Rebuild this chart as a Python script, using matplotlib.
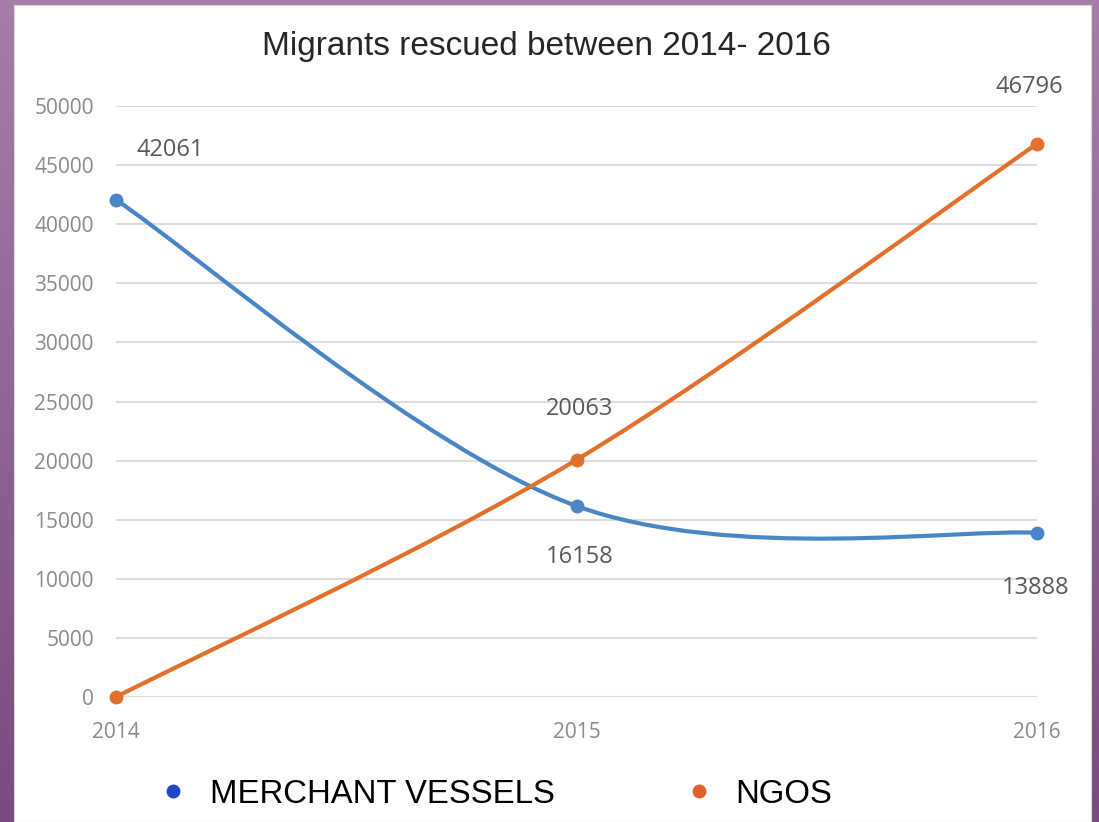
import numpy as np
import matplotlib
matplotlib.use("Agg")
import matplotlib.pyplot as plt
from matplotlib.path import Path
from matplotlib.patches import PathPatch, Rectangle
from matplotlib.lines import Line2D

# data
years = [2014, 2015, 2016]
merchant = [42061, 16158, 13888]
ngos = [0, 20063, 46796]
y_ticks = list(range(0, 50001, 5000))
series_names = ["MERCHANT VESSELS", "NGOS"]
title = "Migrants rescued between 2014- 2016"

# label offsets in pixels (dx, dy) for each point
merchant_offsets = [(54, 50), (3, -51), (-1, -55)]
ngos_offsets = [(0, 0), (3, 51), (-8, 57)]

BLUE = "#4a86c6"
ORANGE = "#e2702c"
W, H = 1099, 822


def smooth_path(xs, ys):
    # Excel-like smoothed line: cubic Bezier through every point
    pts = np.column_stack([xs, ys]).astype(float)
    n = len(pts)
    verts = [pts[0]]
    codes = [Path.MOVETO]
    for i in range(n - 1):
        p0 = pts[max(i - 1, 0)]
        p1, p2 = pts[i], pts[i + 1]
        p3 = pts[min(i + 2, n - 1)]
        verts += [p1 + (p2 - p0) / 6, p2 - (p3 - p1) / 6, p2]
        codes += [Path.CURVE4] * 3
    return Path(verts, codes)


fig = plt.figure(figsize=(W / 100, H / 100), dpi=100)

# purple frame and white slide panel
bg = fig.add_axes([0, 0, 1, 1], zorder=-2)
grad = np.linspace(0, 1, 256).reshape(-1, 1)
cmap = matplotlib.colors.LinearSegmentedColormap.from_list("frame", ["#a67ea9", "#7a4a80"])
bg.imshow(grad, aspect="auto", cmap=cmap, extent=[0, 1, 0, 1])
bg.add_patch(Rectangle((14 / W, 0), (1091 - 14) / W, (H - 5) / H, facecolor="white",
                       edgecolor="#d8d8d8", linewidth=0.8))
bg.set_xlim(0, 1)
bg.set_ylim(0, 1)
bg.axis("off")

ax = fig.add_axes([116 / W, (H - 697) / H, (1037 - 116) / W, 591 / H])
ax.set_facecolor("none")

for vals, color in [(merchant, BLUE), (ngos, ORANGE)]:
    ax.add_patch(PathPatch(smooth_path(years, vals), fill=False, edgecolor=color,
                           linewidth=3, capstyle="round", zorder=3))
    ax.plot(years, vals, "o", color=color, markersize=9, zorder=4, clip_on=False)

for vals, offs in [(merchant, merchant_offsets), (ngos, ngos_offsets)]:
    for x, v, (dx, dy) in zip(years, vals, offs):
        if v == 0:
            continue
        ax.annotate(str(v), (x, v), xytext=(dx, dy), textcoords="offset pixels",
                    ha="center", va="center", fontsize=17, family="Open Sans",
                    color="#595959")

ax.set_xlim(2014, 2016)
ax.set_ylim(0, 50000)
ax.set_xticks(years)
ax.set_xticklabels([str(y) for y in years])
ax.set_yticks(y_ticks)
ax.yaxis.grid(True, color="#dcdcdc", linewidth=1.5)
ax.set_axisbelow(True)
for s in ax.spines.values():
    s.set_visible(False)
ax.tick_params(axis="both", length=0, labelsize=15, labelcolor="#8a8a8a")
ax.tick_params(axis="x", pad=18)
ax.tick_params(axis="y", pad=16)
for lab in ax.get_xticklabels() + ax.get_yticklabels():
    lab.set_family("Open Sans")

fig.text(546 / W, 1 - 46 / H, title, ha="center", va="center", fontsize=24,
         family="Liberation Sans", color="#262626")

handles = [Line2D([], [], marker="o", linestyle="none", color="#1f48c8", markersize=9),
           Line2D([], [], marker="o", linestyle="none", color="#e0622a", markersize=9)]
fig.legend(handles, series_names, loc="center left", bbox_to_anchor=(157 / W, 1 - 794 / H),
           ncol=2, frameon=False, borderpad=0, borderaxespad=0, handlelength=1.0,
           handletextpad=0.6, columnspacing=3.9,
           prop={"family": "Liberation Sans", "size": 23.7})

fig.savefig("out.png", dpi=100)
